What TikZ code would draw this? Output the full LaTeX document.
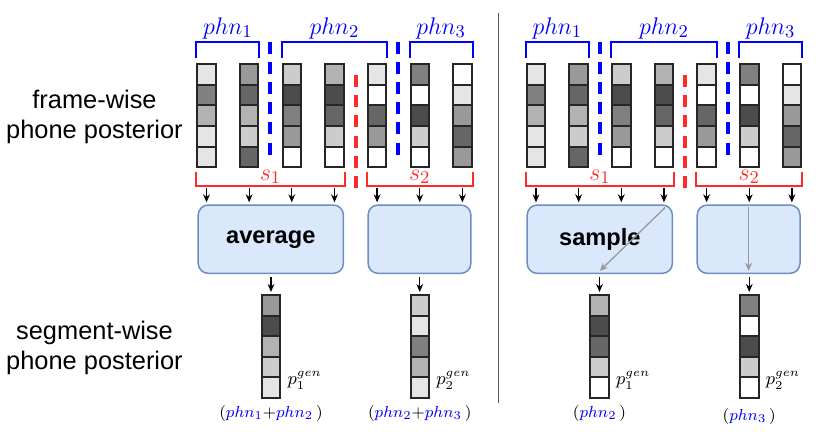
\documentclass[tikz,border=0pt]{standalone}
\usepackage{fontspec}
\setsansfont{Liberation Sans}
\usetikzlibrary{positioning,arrows.meta,calc}
\definecolor{boxfill}{HTML}{DAE8FC}
\definecolor{boxline}{HTML}{6C8EBF}
\definecolor{phnblue}{HTML}{0000FF}
\definecolor{segred}{HTML}{FF2A2A}

\begin{document}
\begin{tikzpicture}[x=0.5pt, y=-0.5pt,
      cell/.style = {rectangle, draw=black!85, line width=1pt,
                     minimum width=9.25pt, minimum height=10.3pt, inner sep=0pt},
      pool/.style = {rectangle, draw=boxline, fill=boxfill, line width=0.75pt,
                     rounded corners=5pt, minimum height=34.15pt,
                     font=\sffamily\bfseries\fontsize{11.8}{14}\selectfont},
      arrow/.style = {-{Stealth[length=4pt,width=3.4pt]}, line width=0.65pt},
      pick/.style = {-{Stealth[length=4pt,width=3.5pt]}, line width=0.65pt, black!40},
      phnbr/.style = {draw=phnblue, line width=1pt},
      segbr/.style = {draw=segred, line width=1pt},
      phnsep/.style = {phnblue, line width=2pt, dash pattern=on 6pt off 4.1pt},
      segsep/.style = {segred, line width=2pt, dash pattern=on 6pt off 4.1pt},
      panelsep/.style = {black!65, line width=0.65pt},
      axis/.style = {font=\sffamily\fontsize{12.7}{15}\selectfont, align=center},
      lbl/.style = {font=\fontsize{13}{15}\selectfont, inner sep=1pt},
      gen/.style = {font=\fontsize{9}{11}\selectfont, inner sep=0pt},
      origin/.style = {font=\fontsize{8.2}{10}\selectfont, inner sep=1pt}
    ]
    \useasboundingbox (0,0) rectangle (831,438);

    % Row labels
    \node[axis] (framewise) at (94.5,117) {frame-wise\\phone posterior};
    \node[axis] (segwise) at (94.5,348) {segment-wise\\phone posterior};

    % Frame-wise posteriors (same frames in both panels)
    \foreach \p/\dx in {L/0, R/329.5} {
      \foreach \shades [count=\c] in {{10,50,30,10,10},{40,60,30,20,60},{20,70,50,40,0},
          {30,70,60,20,0},{10,0,60,40,0},{50,0,70,20,0},{0,10,40,60,40}} {
        \foreach \s [count=\r] in \shades
          \node[cell, fill=black!\s] (\p-\c-\r) at ({206.5+42.65*(\c-1)+\dx}, {74.6+20.6*(\r-1)}) {};
      }
    }

    % Pooling blocks
    \node[pool, minimum width=72.6pt] (avg)  at (270.8,239.2) {average};
    \node[pool, minimum width=51.4pt] (avg2) at (419.5,239.2) {};
    \node[pool, minimum width=72.6pt] (smp)  at (599.8,239.2) {sample};
    \node[pool, minimum width=51.4pt] (smp2) at (748.6,239.2) {};

    % Brackets, boundaries and frame arrows
    \foreach \p/\a/\b in {L/avg/avg2, R/smp/smp2} {
      \draw[phnbr] ([yshift=2.65pt]\p-1-1.north west) -- ++(0,8.15pt) coordinate (t)
        -- (t -| \p-2-1.north east) node[midway, above, lbl, text=phnblue] {$phn_1$}
        -- ([yshift=2.65pt]\p-2-1.north east);
      \draw[phnbr] ([yshift=2.65pt]\p-3-1.north west) -- ++(0,8.15pt) coordinate (t)
        -- (t -| \p-5-1.north east) node[midway, above, lbl, text=phnblue] {$phn_2$}
        -- ([yshift=2.65pt]\p-5-1.north east);
      \draw[phnbr] ([yshift=2.65pt]\p-6-1.north west) -- ++(0,8.15pt) coordinate (t)
        -- (t -| \p-7-1.north east) node[midway, above, lbl, text=phnblue] {$phn_3$}
        -- ([yshift=2.65pt]\p-7-1.north east);

      \draw[segbr] ([yshift=-1.7pt]\p-1-5.south west) -- ++(0,-7.15pt) coordinate (b)
        -- (b -| \p-4-5.south east) node[midway, above, lbl, inner sep=0.5pt, text=segred] {$s_1$}
        -- ([yshift=-1.7pt]\p-4-5.south east);
      \draw[segbr] ([yshift=-1.7pt]\p-5-5.south west) -- ++(0,-7.15pt) coordinate (b)
        -- (b -| \p-7-5.south east) node[midway, above, lbl, inner sep=0.5pt, text=segred] {$s_2$}
        -- ([yshift=-1.7pt]\p-7-5.south east);

      \draw[phnsep] ($(\p-2-1.north east)!.5!(\p-3-1.north west)+(0,10.8pt)$)
        -- ($(\p-2-5.south east)!.5!(\p-3-5.south west)+(0,6.8pt)$);
      \draw[phnsep] ($(\p-5-1.north east)!.5!(\p-6-1.north west)+(0,10.8pt)$)
        -- ($(\p-5-5.south east)!.5!(\p-6-5.south west)+(0,6.8pt)$);
      \draw[segsep] ($(\p-4-1.north east)!.5!(\p-5-1.north west)+(0,-5.85pt)$)
        -- ($(\p-4-5.south east)!.5!(\p-5-5.south west)+(0,-9.85pt)$);

      \foreach \c in {1,...,4}
        \draw[arrow, shorten <=10pt, shorten >=1pt] (\p-\c-5.south) -- (\p-\c-5.south |- \a.north);
      \foreach \c in {5,6,7}
        \draw[arrow, shorten <=10pt, shorten >=1pt] (\p-\c-5.south) -- (\p-\c-5.south |- \b.north);
    }

    % Segment-wise posteriors
    \foreach \o/\x/\blk/\n/\shades in {a/271/avg/1/{40,70,30,20,10}, b/419.75/avg2/2/{20,10,50,30,10},
        c/599.5/smp/1/{30,70,60,20,0}, d/749.25/smp2/2/{50,0,70,20,0}} {
      \foreach \s [count=\r] in \shades
        \node[cell, fill=black!\s] (\o-\r) at (\x, {305.3+20.6*(\r-1)}) {};
      \draw[arrow, shorten <=1.7pt, shorten >=1pt] (\o-1.north |- \blk.south) -- (\o-1.north);
      \node[gen, anchor=west] (\o-p) at ([xshift=3pt, yshift=3.6pt]\o-5.east) {$p_{\n}^{gen}$};
    }

    % Sampling picks
    \draw[pick] ([xshift=-4pt, yshift=-1.6pt]smp.north east) -- ([yshift=1.6pt]smp.south);
    \draw[pick] ([yshift=-1.6pt]smp2.north) -- ([yshift=1.6pt]smp2.south);

    % Merged phones
    \node[origin, below=2pt of a-5] (a-src) {$(\textcolor{phnblue}{phn_1}{+}\textcolor{phnblue}{phn_2}\,)$};
    \node[origin, below=2pt of b-5] (b-src) {$(\textcolor{phnblue}{phn_2}{+}\textcolor{phnblue}{phn_3}\,)$};
    \node[origin, below=2pt of c-5] (c-src) {$(\textcolor{phnblue}{phn_2}\,)$};
    \node[origin, below=3.5pt of d-5] (d-src) {$(\textcolor{phnblue}{phn_3}\,)$};

    % Panel divider
    \draw[panelsep] (498.3,12.7) -- (498.3,403);
  \end{tikzpicture}
\end{document}
